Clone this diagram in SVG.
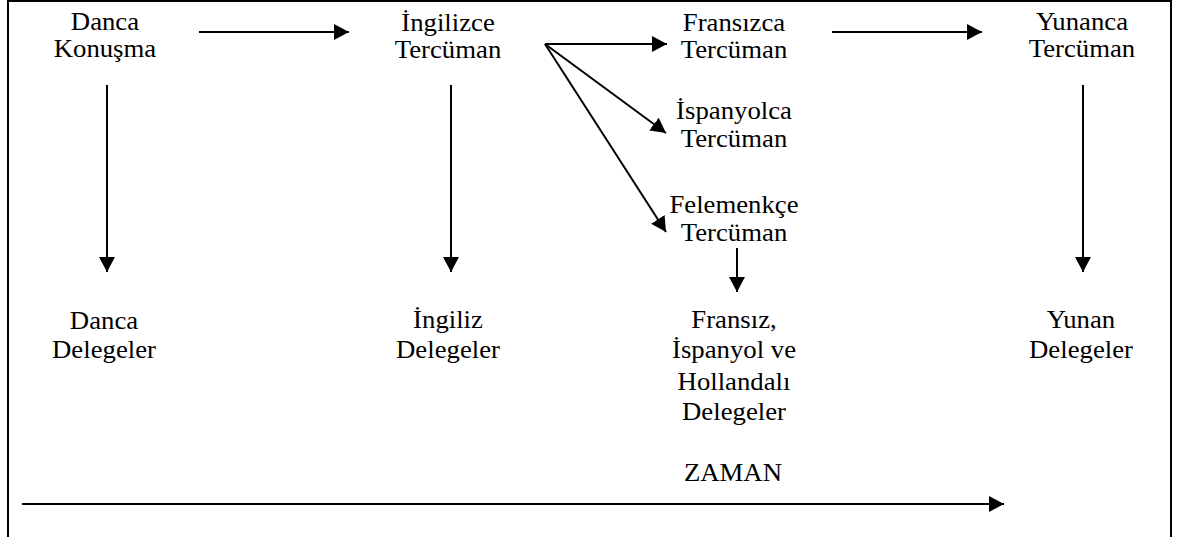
<svg xmlns="http://www.w3.org/2000/svg" width="1180" height="537" viewBox="0 0 1180 537">
<style>
  text { font-family: "Liberation Serif", "Times New Roman", serif; font-size: 25px; fill: #000; text-anchor: middle; }
  .c { stroke: #000; stroke-width: 2; fill: none; marker-end: url(#ah); }
</style>
<defs>
  <marker id="ah" markerUnits="userSpaceOnUse" markerWidth="16" markerHeight="16" refX="15" refY="8" orient="auto" viewBox="0 0 16 16">
    <path d="M0,0 L15,8 L0,16 z" fill="#000"/>
  </marker>
</defs>
<rect width="1180" height="537" fill="#fff"/>
<path d="M8,537 V1 H1171 V537" stroke="#000" stroke-width="2" fill="none"/>

<g transform="scale(1.07 1)">
<g id="danca-konusma"><text x="98.1" y="30">Danca</text><text x="98.1" y="57">Konuşma</text></g>
<g id="ingilizce-tercuman"><text x="418.7" y="31">İngilizce</text><text x="418.7" y="58">Tercüman</text></g>
<g id="fransizca-tercuman"><text x="686" y="31">Fransızca</text><text x="686" y="58">Tercüman</text></g>
<g id="yunanca-tercuman"><text x="1011.2" y="30">Yunanca</text><text x="1011.2" y="57">Tercüman</text></g>
<g id="ispanyolca-tercuman"><text x="686" y="119">İspanyolca</text><text x="686" y="147">Tercüman</text></g>
<g id="felemenkce-tercuman"><text x="686" y="213">Felemenkçe</text><text x="686" y="241">Tercüman</text></g>
<g id="danca-delegeler"><text x="97.2" y="329">Danca</text><text x="97.2" y="358">Delegeler</text></g>
<g id="ingiliz-delegeler"><text x="418.7" y="328">İngiliz</text><text x="418.7" y="358">Delegeler</text></g>
<g id="fr-isp-hol-delegeler"><text x="686" y="328">Fransız,</text><text x="686" y="358">İspanyol ve</text><text x="686" y="390">Hollandalı</text><text x="686" y="420">Delegeler</text></g>
<g id="yunan-delegeler"><text x="1010.3" y="328">Yunan</text><text x="1010.3" y="358">Delegeler</text></g>
<g id="zaman"><text x="685" y="481">ZAMAN</text></g>
</g>

<g id="connectors">
  <line class="c" x1="199" y1="32" x2="349" y2="32"/>
  <line class="c" x1="832" y1="32" x2="982" y2="32"/>
  <line class="c" x1="545" y1="44" x2="667" y2="44"/>
  <line class="c" x1="545" y1="44" x2="666" y2="133"/>
  <line class="c" x1="545" y1="44" x2="666" y2="232"/>
  <line class="c" x1="107" y1="85" x2="107" y2="272"/>
  <line class="c" x1="451" y1="85" x2="451" y2="272"/>
  <line class="c" x1="1083" y1="85" x2="1083" y2="272"/>
  <line class="c" x1="737" y1="248" x2="737" y2="292"/>
  <line class="c" x1="22" y1="504" x2="1004" y2="504"/>
</g>
</svg>
